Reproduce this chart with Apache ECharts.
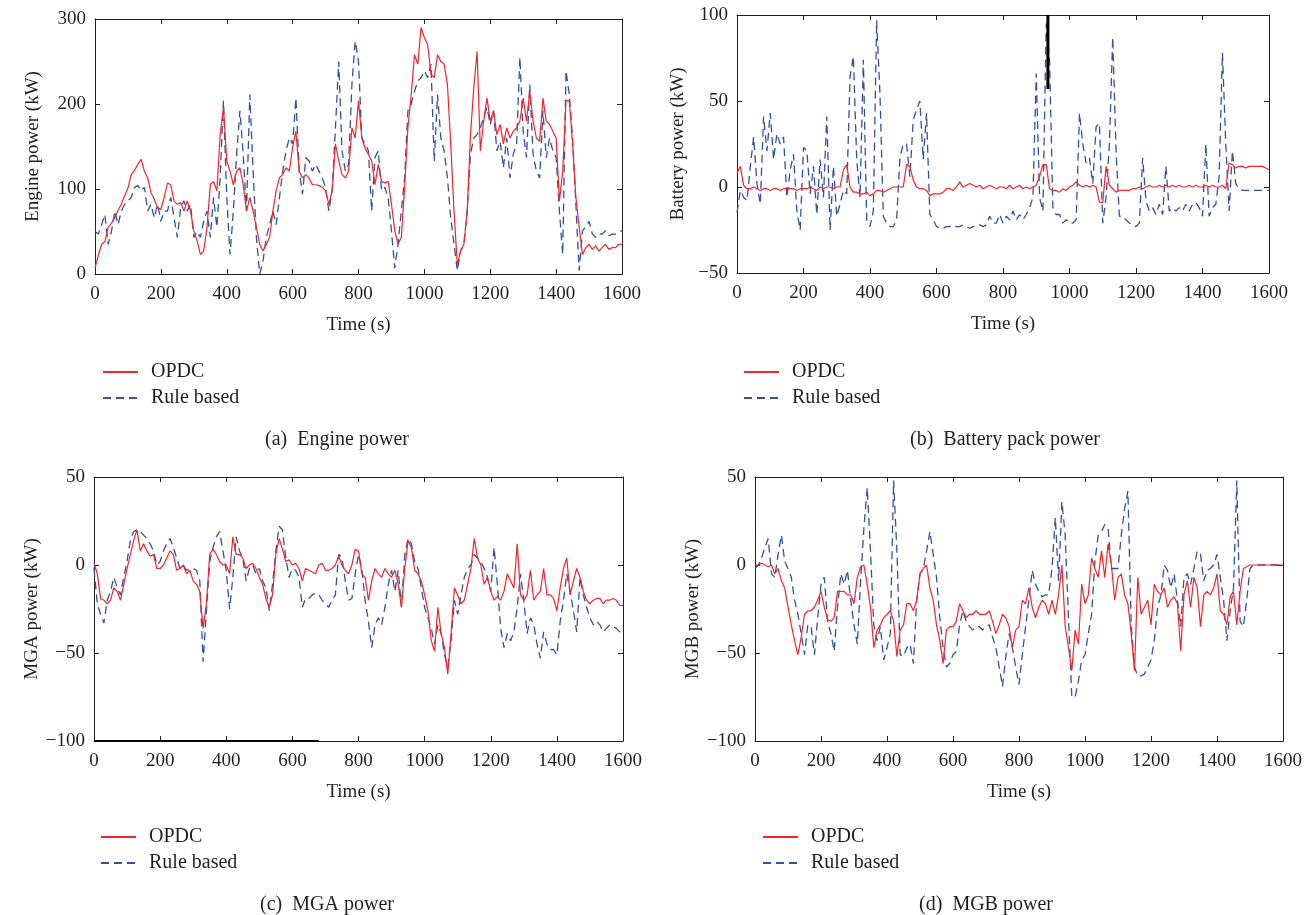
<!DOCTYPE html>
<html>
<head>
<meta charset="utf-8">
<script src="https://cdn.jsdelivr.net/npm/echarts@6/dist/echarts.min.js"></script>
<style>
html,body{margin:0;padding:0;background:#fff;}
#chart{width:1313px;height:915px;}
</style>
</head>
<body>
<div id="chart"></div>
<script>
// time stamps (s)
const time = [
0,10,20,30,40,50,60,70,80,90,
100,110,120,130,140,150,160,170,180,190,
200,210,220,230,240,250,260,270,280,290,
300,310,320,330,340,350,360,370,380,390,
400,410,420,430,440,450,460,470,480,490,
500,510,520,530,540,550,560,570,580,590,
600,610,620,630,640,650,660,670,680,690,
700,710,720,730,740,750,760,770,780,790,
800,810,820,830,840,850,860,870,880,890,
900,910,920,930,940,950,960,970,980,990,
1000,1010,1020,1030,1040,1050,1060,1070,1080,1090,
1100,1110,1120,1130,1140,1150,1160,1170,1180,1190,
1200,1210,1220,1230,1240,1250,1260,1270,1280,1290,
1300,1310,1320,1330,1340,1350,1360,1370,1380,1390,
1400,1410,1420,1430,1440,1450,1460,1470,1480,1490,
1500,1510,1520,1530,1540,1550,1560,1570,1580,1590,
1600];

// (a) Engine power (kW)
const engineOPDC = [
7,22,35,38,55,60,66,75,82,92,
101,117,122,129,135,121,113,96,88,78,
76,90,107,105,86,82,84,74,86,74,
51,39,23,27,55,105,109,98,164,196,
133,121,105,121,125,105,74,90,74,55,
35,27,35,43,74,98,113,117,125,121,
149,168,121,113,117,113,105,105,104,102,
98,82,98,153,133,117,113,121,172,160,
204,160,148,141,133,105,129,109,107,109,
82,51,35,43,102,172,211,258,247,290,
278,270,235,231,258,250,247,223,153,74,
11,27,35,74,164,219,262,145,180,207,
180,192,164,176,153,172,160,168,172,180,
207,180,215,180,160,156,207,180,176,168,
160,86,121,204,204,153,90,55,23,31,
35,29,33,27,31,35,29,31,31,35,
35];
const engineRule = [
50,47,58,70,35,50,74,58,74,82,
86,90,102,104,98,102,74,82,66,82,
62,74,74,90,66,43,78,86,74,82,
43,50,43,62,74,43,90,55,113,204,
90,23,74,141,192,141,74,211,121,43,
0,15,43,58,74,58,90,121,145,160,
153,207,121,94,137,133,121,129,121,113,
102,74,98,172,250,145,121,129,223,274,
250,160,153,145,74,137,145,98,102,90,
51,7,35,74,113,192,200,215,227,231,
239,231,247,133,211,160,145,113,66,35,
4,27,35,74,141,160,164,172,184,196,
176,192,145,156,125,160,113,141,153,255,
168,137,223,141,121,113,192,137,160,145,
137,74,23,239,211,160,82,4,51,55,
62,47,43,47,47,51,45,47,47,49,
51];

// (b) Battery power (kW)
const batteryOPDC = [
8,12,1,-1,-1,0,-1,-2,-1,-1,
-2,-1,-1,-2,-1,-1,-1,-1,-2,-1,
-1,-1,0,-1,-2,0,-1,0,0,-1,
0,0,10,13,0,-3,-3,-4,-4,-3,
-5,-4,-2,-2,-3,-2,-1,0,0,0,
0,13,12,4,0,-1,-1,-2,-5,-4,
-4,-4,-3,-1,-1,-2,0,3,0,1,
2,1,0,1,-1,0,1,0,-1,0,
0,-1,1,-1,0,1,-1,0,-1,0,
1,6,13,13,-1,-2,-2,-3,-1,-2,
0,1,3,1,0,1,0,1,0,-9,
-9,12,1,-1,-3,-2,-2,-2,-2,-1,
-1,0,-1,0,1,0,0,1,0,1,
0,1,0,1,0,0,1,0,1,0,
0,1,0,1,0,0,1,-1,14,13,
11,12,12,11,12,12,12,12,12,11,
10];
const batteryRule = [
-15,-2,-6,-8,12,29,2,-10,41,21,
43,16,31,25,29,-6,10,19,-14,-25,
23,21,-4,12,-16,16,-6,41,-25,12,
-17,-10,-2,-4,64,76,16,-6,74,-19,
-23,-14,97,54,-17,-21,-23,-23,-19,17,
25,25,6,39,45,50,16,43,-16,-19,
-23,-24,-24,-23,-23,-22,-23,-23,-22,-23,
-24,-23,-23,-22,-23,-22,-17,-21,-21,-16,
-21,-17,-19,-14,-19,-16,-19,-16,-12,-6,
66,-6,-14,95,74,-12,-16,-16,-21,-19,
-21,-21,-19,43,25,14,17,2,35,37,
-21,-6,25,87,21,-17,-17,-19,-21,-22,
-23,-21,17,-8,-14,-12,-16,-10,-16,12,
-14,-12,-14,-12,-14,-10,-14,-10,-9,-12,
-17,25,-17,-12,-10,6,78,25,-14,21,
2,-1,-2,-2,-2,-2,-2,-2,-2,-2,
-2];
// black vertical mark in (b)
const batteryMarkTime = [935, 935];
const batteryMarkValue = [100, 57];

// (c) MGA power (kW)
const mgaOPDC = [
1,-5,-19,-20,-22,-20,-13,-15,-20,-11,
-2,6,14,20,8,12,8,5,6,-2,
-2,0,4,8,6,-3,-2,0,-5,-3,
-9,-11,-15,-36,-22,6,9,6,2,0,
0,-5,16,6,6,4,-2,0,1,-2,
-7,-11,-19,-24,-17,6,15,9,2,3,
0,1,-2,-9,-2,-3,-4,-5,0,1,
-3,-3,-2,0,5,0,-3,-5,0,9,
8,-5,-7,-20,-9,-2,-5,-7,-2,-5,
-7,-3,-11,-24,-2,14,10,-3,-5,-9,
-17,-26,-43,-49,-24,-39,-47,-62,-39,-13,
-17,-22,-20,-11,-2,15,4,0,-11,-7,
-15,-20,-18,-20,-15,-5,-9,-13,12,-17,
-20,-17,-3,-20,-17,-15,-2,-17,-17,-19,
-26,-13,-2,4,-17,-9,-2,-7,-15,-20,
-22,-20,-19,-19,-22,-20,-20,-19,-20,-23,
-23];
const mgaRule = [
-2,-22,-28,-33,-20,-15,-7,-13,-17,-7,
2,14,19,20,19,17,15,12,8,0,
2,8,12,15,10,4,-2,0,-3,-2,
-2,-3,-9,-55,-26,2,10,16,19,8,
-3,-25,-7,16,8,4,-9,-2,0,-5,
-2,-9,-13,-26,-11,8,22,20,4,-7,
-2,-3,-7,-24,-19,-19,-17,-16,-17,-20,
-22,-24,-20,-17,6,4,-9,-20,-19,-5,
6,-2,-20,-32,-47,-34,-30,-34,-24,-11,
-3,-15,-3,-24,6,15,12,2,-2,-13,
-24,-30,-36,-45,-34,-39,-51,-58,-43,-20,
-28,-17,-7,-2,0,6,4,2,-2,-7,
-15,10,-11,-36,-47,-39,-43,-38,-24,-5,
-20,-39,-30,-34,-45,-53,-38,-45,-48,-48,
-51,-32,-20,-5,-15,-26,-38,-7,-17,-24,
-30,-34,-32,-34,-38,-36,-34,-35,-36,-38,
-38];
// dark segment along the bottom edge of (c)
const mgaBaseTime = [0, 680];
const mgaBaseValue = [-100, -100];

// (d) MGB power (kW)
const mgbOPDC = [
0,0,1,0,-1,0,-5,-2,-9,-13,
-24,-34,-43,-51,-41,-28,-26,-26,-24,-20,
-15,-24,-31,-32,-30,-15,-15,-15,-17,-17,
-22,-7,-1,0,-11,-24,-47,-37,-34,-30,
-28,-26,-32,-52,-37,-34,-22,-22,-26,-20,
-5,-2,0,-13,-20,-34,-43,-56,-37,-35,
-35,-32,-22,-26,-30,-28,-28,-26,-28,-28,
-28,-26,-32,-39,-34,-28,-30,-35,-47,-37,
-35,-20,-22,-13,-24,-30,-24,-20,-22,-28,
-20,-28,-17,0,-35,-47,-60,-37,-45,-11,
-22,-17,4,-2,-7,8,-7,12,0,-20,
-7,-5,-17,-22,-39,-60,-7,-28,-24,-20,
-34,-11,-15,-17,-13,-24,-20,-18,-22,-49,
-17,-9,-24,-7,-13,-35,-17,-15,-17,-13,
-5,-26,-28,-34,-18,-15,-34,-15,-2,-1,
0,0,0,0,0,0,0,0,0,0,
0];
const mgbRule = [
-2,0,4,10,15,-5,-7,6,17,2,
-2,-7,-20,-28,-39,-51,-34,-35,-51,-30,
-11,-7,-32,-39,-49,-24,-5,-11,-3,-20,
-34,-45,-9,21,44,8,-34,-43,-35,-54,
-47,-39,48,8,-51,-52,-47,-45,-56,-20,
-5,-2,8,19,6,-7,-30,-47,-58,-56,
-51,-49,-34,-26,-32,-35,-37,-35,-35,-37,
-35,-34,-41,-47,-58,-69,-52,-39,-47,-58,
-68,-51,-35,-20,-3,-11,-15,-18,-17,-17,
-2,27,-9,36,17,-30,-75,-75,-66,-54,
-51,-39,-28,2,17,19,23,21,-2,-2,
-2,17,32,42,-34,-58,-63,-63,-62,-58,
-54,-43,-24,-17,0,-3,-13,-5,-20,-35,
-7,-5,-11,-2,8,6,-9,-3,-2,0,
6,-7,-20,-43,-26,-13,48,-32,-35,-20,
-2,0,0,0,0,0,0,0,0,0,
0];

const xTicks = {min: 0, max: 1600, interval: 200};
const yRanges = [
  {min: 0, max: 300, interval: 100},
  {min: -50, max: 100, interval: 50},
  {min: -100, max: 50, interval: 50},
  {min: -100, max: 50, interval: 50}
];
const yNames = ['Engine power (kW)', 'Battery power (kW)', 'MGA power (kW)', 'MGB power (kW)'];
const captions = ['(a)  Engine power', '(b)  Battery pack power', '(c)  MGA power', '(d)  MGB power'];
const seriesNames = ['OPDC', 'Rule based'];

const FONT = 'Liberation Serif';
const INK = '#231f20';
const RED = '#f5242a';
const BLUE = '#3050a6';

const grids = [
  {left: 95, top: 19, width: 527, height: 255},
  {left: 737, top: 15, width: 532, height: 258},
  {left: 94, top: 477, width: 529, height: 264},
  {left: 755, top: 477, width: 528, height: 264}
];
const yNameGaps = [52, 49, 51, 48];
const legendPos = [
  {left: 97, top: 357},
  {left: 738, top: 357},
  {left: 95, top: 822},
  {left: 757, top: 822}
];
const captionPos = [
  {x: 332, y: 425},
  {x: 1000, y: 425},
  {x: 322, y: 890},
  {x: 981, y: 890}
];

function pairs(ts, vs) { return ts.map((t, i) => [t, vs[i]]); }
const minusFmt = v => String(v).replace('-', '\u2212');

const panelData = [
  [engineOPDC, engineRule],
  [batteryOPDC, batteryRule],
  [mgaOPDC, mgaRule],
  [mgbOPDC, mgbRule]
];

const xAxis = [], yAxis = [], series = [], legend = [], title = [];
grids.forEach((g, i) => {
  const axLine = {show: true, onZero: false, lineStyle: {color: INK, width: 1}};
  const tick = {show: true, inside: true, length: 5, lineStyle: {color: INK, width: 1}};
  xAxis.push({
    type: 'value', gridIndex: i, position: 'bottom', ...xTicks,
    axisLine: axLine, axisTick: tick, splitLine: {show: false},
    axisLabel: {color: INK, fontFamily: FONT, fontSize: 19, margin: 11, formatter: minusFmt},
    name: 'Time (s)', nameLocation: 'middle', nameGap: 42,
    nameTextStyle: {color: INK, fontFamily: FONT, fontSize: 19}
  });
  xAxis.push({
    type: 'value', gridIndex: i, position: 'top', ...xTicks,
    axisLine: axLine, axisTick: tick, splitLine: {show: false}, axisLabel: {show: false}
  });
  yAxis.push({
    type: 'value', gridIndex: i, position: 'left', ...yRanges[i],
    axisLine: axLine, axisTick: tick, splitLine: {show: false},
    axisLabel: {color: INK, fontFamily: FONT, fontSize: 19, margin: 9, formatter: minusFmt},
    name: yNames[i], nameLocation: 'middle', nameGap: yNameGaps[i],
    nameTextStyle: {color: INK, fontFamily: FONT, fontSize: 19}
  });
  yAxis.push({
    type: 'value', gridIndex: i, position: 'right', ...yRanges[i],
    axisLine: axLine, axisTick: tick, splitLine: {show: false}, axisLabel: {show: false}
  });
  const [opdc, rule] = panelData[i];
  series.push({
    name: seriesNames[0], type: 'line', xAxisIndex: 2 * i, yAxisIndex: 2 * i,
    data: pairs(time, opdc), showSymbol: false, symbol: 'none', z: 3,
    lineStyle: {color: RED, width: 1.2}, itemStyle: {color: RED}
  });
  series.push({
    name: seriesNames[1], type: 'line', xAxisIndex: 2 * i, yAxisIndex: 2 * i,
    data: pairs(time, rule), showSymbol: false, symbol: 'none', z: 2,
    lineStyle: {color: BLUE, width: 1.3, type: [8, 5]}, itemStyle: {color: BLUE}
  });
  legend.push({
    orient: 'vertical', left: legendPos[i].left, top: legendPos[i].top,
    data: seriesNames, itemWidth: 35, itemHeight: 14, itemGap: 6,
    selectedMode: false,
    itemStyle: {opacity: 0},
    textStyle: {color: INK, fontFamily: FONT, fontSize: 20, padding: [0, 0, 0, 8]}
  });
  title.push({
    text: captions[i], left: captionPos[i].x, top: captionPos[i].y, textAlign: 'center',
    textStyle: {color: INK, fontFamily: FONT, fontSize: 20, fontWeight: 'normal'}
  });
});
series.push({
  name: 'mark', type: 'line', xAxisIndex: 2, yAxisIndex: 2,
  data: pairs(batteryMarkTime, batteryMarkValue), showSymbol: false, symbol: 'none', z: 4,
  lineStyle: {color: '#000', width: 3}
});
series.push({
  name: 'base', type: 'line', xAxisIndex: 4, yAxisIndex: 4,
  data: pairs(mgaBaseTime, mgaBaseValue), showSymbol: false, symbol: 'none', z: 4,
  lineStyle: {color: '#000', width: 2}
});

const chart = echarts.init(document.getElementById('chart'), null, {renderer: 'canvas'});
chart.setOption({
  animation: false,
  backgroundColor: '#fff',
  grid: grids.map(g => ({...g, containLabel: false})),
  xAxis, yAxis, series, legend, title
});
</script>
</body>
</html>
